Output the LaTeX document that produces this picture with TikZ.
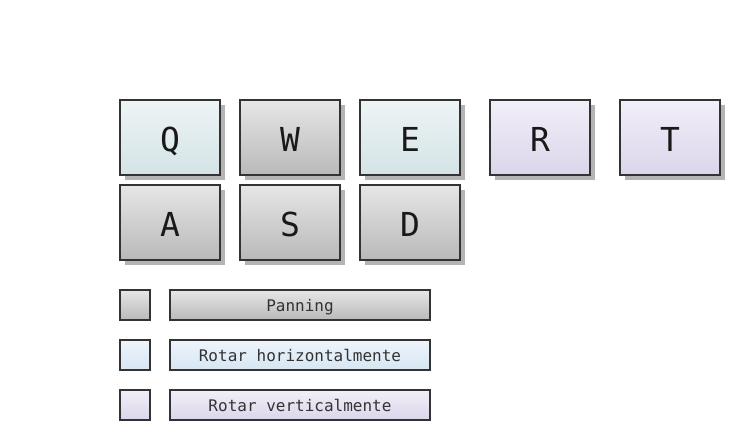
\documentclass[tikz,border=0pt]{standalone}
\usepackage{fontspec}
\setmonofont{DejaVu Sans Mono}
\usetikzlibrary{shadows}
\definecolor{edgec}{HTML}{333333}
\definecolor{shadc}{HTML}{B4B4B4}
\definecolor{gtop}{HTML}{E6E6E6}
\definecolor{gbot}{HTML}{B9B9B9}
\definecolor{ctop}{HTML}{EEF4F5}
\definecolor{cbot}{HTML}{D3E3E6}
\definecolor{ltop}{HTML}{F1EFF9}
\definecolor{lbot}{HTML}{DCD5EA}
\definecolor{btop}{HTML}{EEF4FB}
\definecolor{bbot}{HTML}{D6E6F4}
\tikzset{
  keybox/.style={draw=edgec, line width=2pt, minimum width=100pt, minimum height=75pt,
    inner sep=0pt, font=\ttfamily\fontsize{33}{39}\selectfont, text=black!90,
    text height=28pt, text depth=0pt,
    drop shadow={shadow xshift=5pt, shadow yshift=-5pt, fill=shadc, opacity=1}},
  legsq/.style={draw=edgec, line width=2pt, minimum width=30pt, minimum height=30pt, inner sep=0pt},
  leglab/.style={draw=edgec, line width=2pt, minimum width=260pt, minimum height=30pt, inner sep=0pt,
    font=\ttfamily\fontsize{16}{19}\selectfont, text=edgec, text height=12pt, text depth=0pt},
  grayg/.style={top color=gtop, bottom color=gbot},
  cyang/.style={top color=ctop, bottom color=cbot},
  lavg/.style={top color=ltop, bottom color=lbot},
  blueg/.style={top color=btop, bottom color=bbot},
}
\begin{document}
\begin{tikzpicture}[x=1pt,y=-1pt]
\useasboundingbox (0,0) rectangle (746,440);
\node[keybox, cyang] (q) at (170,137.5) {Q};
\node[keybox, grayg] (w) at (290,137.5) {W};
\node[keybox, cyang] (e) at (410,137.5) {E};
\node[keybox, lavg] (r) at (540,137.5) {R};
\node[keybox, lavg] (t) at (670,137.5) {T};
\node[keybox, grayg] (a) at (170,222.5) {A};
\node[keybox, grayg] (s) at (290,222.5) {S};
\node[keybox, grayg] (d) at (410,222.5) {D};
\node[legsq, grayg] (sq1) at (135,305) {};
\node[legsq, blueg] (sq2) at (135,355) {};
\node[legsq, lavg] (sq3) at (135,405) {};
\node[leglab, grayg] (l1) at (300,305) {Panning};
\node[leglab, blueg] (l2) at (300,355) {Rotar horizontalmente};
\node[leglab, lavg] (l3) at (300,405) {Rotar verticalmente};
\end{tikzpicture}
\end{document}
